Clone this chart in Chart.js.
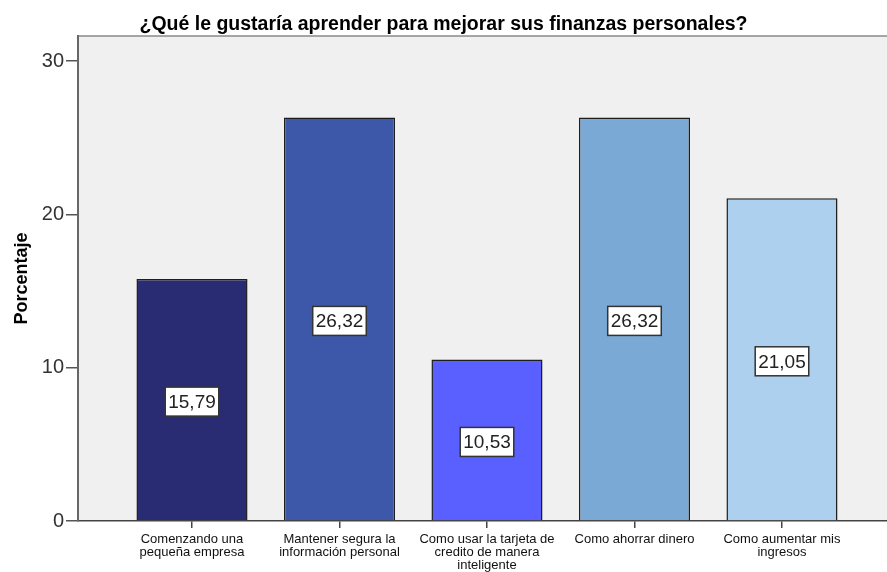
<!DOCTYPE html>
<html>
<head>
<meta charset="utf-8">
<script src="https://cdn.jsdelivr.net/npm/chart.js@4"></script>
<style>
html,body{margin:0;padding:0;background:#fff;}
canvas{display:block;}
</style>
</head>
<body>
<canvas id="c" width="887" height="572"></canvas>
<script>
const titleText = "¿Qué le gustaría aprender para mejorar sus finanzas personales?";
const yTitle = "Porcentaje";
const categories = [
  ["Comenzando una", "pequeña empresa"],
  ["Mantener segura la", "información personal"],
  ["Como usar la tarjeta de", "credito de manera", "inteligente"],
  ["Como ahorrar dinero"],
  ["Como aumentar mis", "ingresos"]
];
const values = [15.79, 26.32, 10.53, 26.32, 21.05];
const valueLabels = ["15,79", "26,32", "10,53", "26,32", "21,05"];
const yTicks = [0, 10, 20, 30];
const barColors = ["#2a2c73", "#3d58a9", "#5a5fff", "#7aa9d5", "#acd0ee"];

const FONT = "'Liberation Sans', Arial, sans-serif";

const plotBg = {
  id: 'plotBg',
  beforeDraw(chart) {
    const {ctx, chartArea: a} = chart;
    ctx.save();
    ctx.fillStyle = '#f0f0f0';
    ctx.fillRect(a.left, a.top, a.right - a.left, a.bottom - a.top);
    ctx.strokeStyle = '#8a8a8a';
    ctx.lineWidth = 1.5;
    ctx.beginPath();
    ctx.moveTo(a.left, a.top);
    ctx.lineTo(a.right, a.top);
    ctx.stroke();
    ctx.restore();
  }
};

const boxLabels = {
  id: 'boxLabels',
  afterDatasetsDraw(chart) {
    const {ctx} = chart;
    const meta = chart.getDatasetMeta(0);
    ctx.save();
    ctx.font = "19px " + FONT;
    ctx.textAlign = 'center';
    ctx.textBaseline = 'middle';
    meta.data.forEach((bar, i) => {
      const txt = valueLabels[i];
      const cx = bar.x;
      const cy = (bar.y + bar.base) / 2 + 2;
      const w = ctx.measureText(txt).width + 6;
      const h = 29;
      ctx.fillStyle = '#ffffff';
      ctx.fillRect(cx - w / 2, cy - h / 2, w, h);
      ctx.strokeStyle = '#333333';
      ctx.lineWidth = 1.5;
      ctx.strokeRect(cx - w / 2, cy - h / 2, w, h);
      ctx.fillStyle = '#222222';
      ctx.fillText(txt, cx, cy + 1);
    });
    ctx.restore();
  }
};

new Chart(document.getElementById('c'), {
  type: 'bar',
  data: {
    datasets: [{
      data: values.map((v, i) => ({x: i, y: v})),
      backgroundColor: barColors,
      borderColor: '#1e1e1e',
      borderWidth: 1.5,
      barPercentage: 0.753,
      categoryPercentage: 1.0
    }]
  },
  options: {
    responsive: false,
    animation: false,
    layout: {padding: {left: 0, right: 0, top: 0, bottom: 0}},
    plugins: {
      legend: {display: false},
      tooltip: {enabled: false},
      title: {
        display: true,
        text: titleText,
        color: '#000',
        font: {family: FONT, size: 19.5, weight: 'bold', lineHeight: 1.2},
        padding: {top: 12.6, bottom: 0}
      }
    },
    scales: {
      x: {
        type: 'linear',
        offset: false,
        min: -0.7729,
        max: 4.712,
        afterFit(s) { s.height = 51; },
        afterBuildTicks(s) { s.ticks = categories.map((c, i) => ({value: i})); },
        ticks: {
          includeBounds: false,
          autoSkip: false,
          maxRotation: 0,
          padding: 5,
          color: '#111',
          font: {family: FONT, size: 13, lineHeight: 1.0},
          callback: (v) => categories[v] || ''
        },
        grid: {offset: false, drawOnChartArea: false, drawTicks: true, tickLength: 7, color: '#444', lineWidth: 1.5},
        border: {display: true, color: '#444', width: 1.5}
      },
      y: {
        min: 0,
        max: 31.64,
        afterFit(s) { s.width = 78; },
        afterBuildTicks(s) { s.ticks = yTicks.map(v => ({value: v})); },
        ticks: {
          includeBounds: false,
          padding: 2,
          color: '#333',
          font: {family: FONT, size: 20}
        },
        grid: {drawOnChartArea: false, drawTicks: true, tickLength: 12, color: '#555', lineWidth: 1.5},
        border: {display: true, color: '#666', width: 2},
        title: {
          display: true,
          text: yTitle,
          color: '#000',
          font: {family: FONT, size: 18, weight: 'bold'},
          padding: {top: 11, bottom: 0}
        }
      }
    }
  },
  plugins: [plotBg, boxLabels]
});
</script>
</body>
</html>
